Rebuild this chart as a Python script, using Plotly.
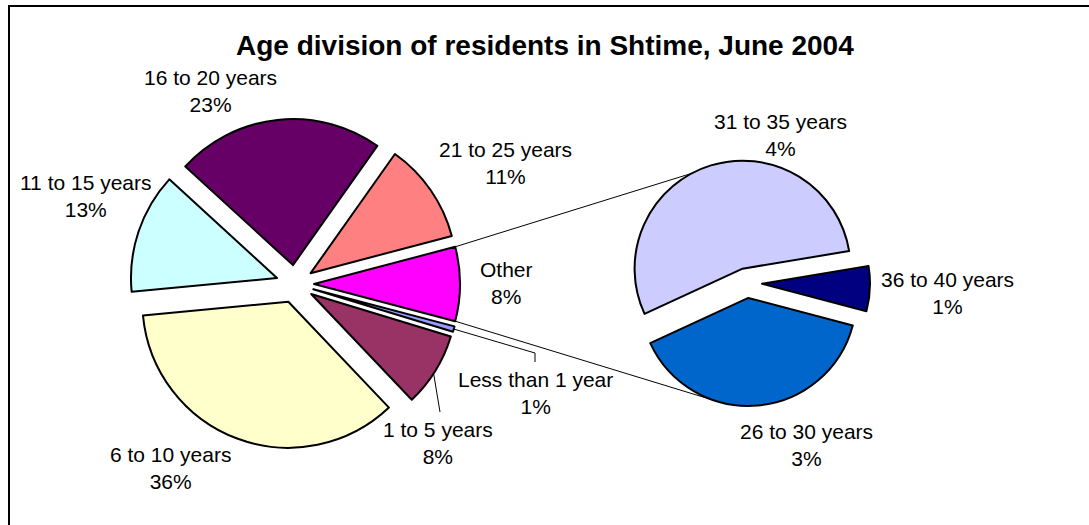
import math
import plotly.graph_objects as go

# ---------------- data ----------------
title_text = "Age division of residents in Shtime, June 2004"
main_labels = ["Less than 1 year", "1 to 5 years", "6 to 10 years", "11 to 15 years",
               "16 to 20 years", "21 to 25 years", "Other"]
main_values_known = [0.6, 8.2, 35.6, 13.3, 23.0, 11.1]
other_labels = ["26 to 30 years", "31 to 35 years", "36 to 40 years"]
other_values = [3.2, 4.45, 0.55]
main_colors = ["#9999FF", "#993366", "#FFFFCC", "#CCFFFF", "#660066", "#FF8080", "#FF00FF"]
other_colors = ["#0066CC", "#CCCCFF", "#000080"]

other_total = sum(other_values)
main_values = main_values_known + [other_total]
total = sum(main_values)

# ---------------- layout geometry (window pixels) ----------------
W, H = 1089, 525
FONT = "Liberation Sans, Arial, sans-serif"

C1 = (295.0, 284.0); R1 = 146.0; D1 = 19.0
C2 = (747.0, 283.0); R2 = 108.0; D2 = 15.0


def px(x):
    return x / W


def py(y):
    return 1 - y / H


rot = 90 + 180 * other_total / total  # "Other" centred at 3 o'clock

p1 = D1 / R1
p2 = D2 / R2
h1 = R1 * (1 + p1)
h2 = R2 * (1 + p2)

fig = go.Figure()
fig.add_trace(go.Pie(
    labels=main_labels, values=main_values, sort=False, direction="clockwise",
    rotation=rot, pull=p1, textinfo="none", hoverinfo="label+percent",
    marker=dict(colors=main_colors, line=dict(color="black", width=2)),
    domain=dict(x=[px(C1[0] - h1), px(C1[0] + h1)], y=[py(C1[1] + h1), py(C1[1] - h1)]),
    showlegend=False,
))
fig.add_trace(go.Pie(
    labels=other_labels, values=other_values, sort=False, direction="clockwise",
    rotation=rot, pull=p2, textinfo="none", hoverinfo="label+value",
    marker=dict(colors=other_colors, line=dict(color="black", width=2)),
    domain=dict(x=[px(C2[0] - h2), px(C2[0] + h2)], y=[py(C2[1] + h2), py(C2[1] - h2)]),
    showlegend=False,
))


def slice_point(center, r, d, bis_deg, ang_deg):
    """point on the arc of a pulled slice (math angles, degrees)"""
    cx = center[0] + d * math.cos(math.radians(bis_deg))
    cy = center[1] - d * math.sin(math.radians(bis_deg))
    return (cx + r * math.cos(math.radians(ang_deg)), cy - r * math.sin(math.radians(ang_deg)))


def bisectors(values, tot, start_compass):
    out = []
    a = start_compass
    for v in values:
        span = 360 * v / tot
        mid = a + span / 2
        out.append((90 - mid, span))  # math-angle bisector, angular span
        a += span
    return out


b1 = bisectors(main_values, total, rot)
b2 = bisectors(other_values, other_total, rot)

shapes = []
# border
shapes.append(dict(type="rect", xref="paper", yref="paper", x0=px(9), x1=px(W + 20),
                   y0=py(H + 20), y1=py(6), line=dict(color="black", width=2)))


def line(a, b, w=1):
    shapes.append(dict(type="line", xref="paper", yref="paper", x0=px(a[0]), y0=py(a[1]),
                       x1=px(b[0]), y1=py(b[1]), line=dict(color="black", width=w)))


# connector lines from "Other" to the secondary pie
o_bis, o_span = b1[-1]
up_main = slice_point(C1, R1, D1, o_bis, o_bis + o_span / 2)
lo_main = slice_point(C1, R1, D1, o_bis, o_bis - o_span / 2)
up_sec = slice_point(C2, R2, D2, b2[1][0], 118)
lo_sec = slice_point(C2, R2, D2, b2[0][0], -106)
line(up_main, up_sec)
line(lo_main, lo_sec)

# leader lines
lt1 = slice_point(C1, R1, D1, b1[0][0], b1[0][0])
line(lt1, (535, 353))
line((535, 353), (535, 362))
l15 = slice_point(C1, R1, D1, b1[1][0], -33)
line(l15, (440, 412))

# labels
label_pos = {
    "16 to 20 years": (210, 91),
    "21 to 25 years": (505, 163),
    "11 to 15 years": (86, 196),
    "Other": (506, 283),
    "Less than 1 year": (535, 393),
    "1 to 5 years": (438, 443),
    "6 to 10 years": (170, 468),
    "31 to 35 years": (780, 135),
    "36 to 40 years": (947, 293),
    "26 to 30 years": (806, 445),
}

annotations = []
for lab, v in list(zip(main_labels, main_values)) + list(zip(other_labels, other_values)):
    x, y = label_pos[lab]
    annotations.append(dict(
        x=px(x), y=py(y), xref="paper", yref="paper", xanchor="center", yanchor="middle",
        text=f"{lab}<br>{100 * v / total:.0f}%", showarrow=False, align="center",
        font=dict(family=FONT, size=21, color="black"),
    ))

annotations.append(dict(
    x=px(545), y=py(45), xref="paper", yref="paper", xanchor="center", yanchor="middle",
    text=f"<b>{title_text}</b>", showarrow=False,
    font=dict(family=FONT, size=28, color="black"),
))

fig.update_layout(
    width=W, height=H, margin=dict(l=0, r=0, t=0, b=0),
    paper_bgcolor="white", plot_bgcolor="white",
    shapes=shapes, annotations=annotations,
)

fig.write_html(
    "out.html",
    config={"displayModeBar": False},
    post_script="document.body.style.margin='0px';document.body.style.overflow='hidden';",
)
